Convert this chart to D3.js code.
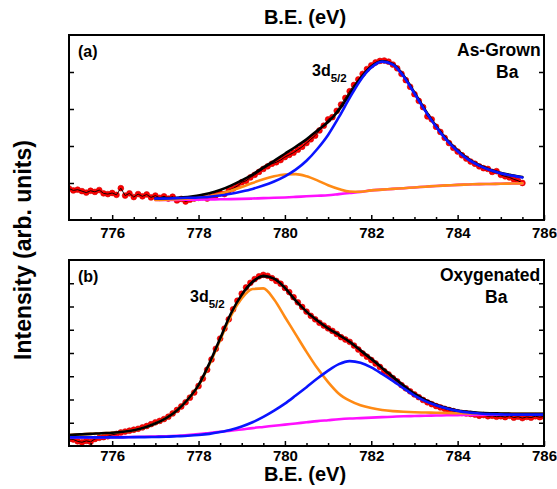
<!DOCTYPE html>
<html><head><meta charset="utf-8">
<script src="https://cdn.jsdelivr.net/npm/d3@7"></script>
<style>
body{margin:0;background:#fff;}
text{font-family:"Liberation Sans",Arial,sans-serif;font-weight:bold;fill:#000;}
</style></head>
<body><svg id="c" width="557" height="489"></svg>
<script>
// ---------- data ----------
const xMajorTicks = [776, 778, 780, 782, 784, 786];
const xMinorTicks = [775.5, 776.5, 777, 777.5, 778.5, 779, 779.5, 780.5, 781, 781.5, 782.5, 783, 783.5, 784.5, 785, 785.5];
const yTicksA = [1, 2, 3, 4];
const yTicksB = [1, 2, 3, 4, 5, 6, 7];

// Panel (a) As-Grown: experimental points (775.0 .. 785.5, step 0.1 eV)
const expA_start = 775.0, expA_step = 0.1;
const expA = [0.85,0.80,0.82,0.78,0.74,0.79,0.76,0.81,0.72,0.70,
0.73,0.68,0.86,0.66,0.72,0.62,0.70,0.64,0.69,0.61,
0.66,0.60,0.64,0.58,0.63,0.53,0.57,0.50,0.55,0.58,
0.60,0.62,0.58,0.64,0.67,0.72,0.70,0.80,0.85,0.92,
1.02,1.06,1.15,1.22,1.30,1.38,1.45,1.52,1.56,1.62,
1.70,1.76,1.82,1.90,1.98,2.08,2.18,2.28,2.42,2.55,
2.72,2.78,2.95,3.12,3.30,3.48,3.65,3.80,3.95,4.08,
4.18,4.26,4.30,4.31,4.28,4.20,4.10,3.95,3.78,3.60,
3.40,3.22,3.05,2.80,2.72,2.52,2.38,2.22,2.08,1.95,
1.85,1.75,1.66,1.58,1.52,1.45,1.40,1.38,1.30,1.32,
1.22,1.18,1.15,1.10,1.06,1.00];

// Panel (a) fits (777.0 .. 785.5, step 0.25 eV)
const fitA_start = 777.0, fitA_step = 0.25;
const bgA = [0.54,0.54,0.545,0.55,0.55,0.555,0.56,0.565,0.57,0.58,0.59,0.60,0.61,0.625,0.64,0.655,0.67,0.70,0.73,0.76,0.80,0.82,0.84,0.86,0.88,0.90,0.92,0.935,0.95,0.96,0.97,0.975,0.98,0.985,0.99];
const orangeA = [0.54,0.55,0.56,0.58,0.61,0.65,0.71,0.79,0.89,1.00,1.10,1.18,1.23,1.24,1.18,1.07,0.94,0.84,0.77,0.765,0.80,0.82,0.84,0.86,0.88,0.90,0.92,0.935,0.95,0.96,0.97,0.975,0.98,0.985,0.99];
const blueA = [0.58,0.58,0.59,0.60,0.61,0.63,0.66,0.71,0.77,0.84,0.93,1.04,1.18,1.36,1.60,1.92,2.30,2.78,3.30,3.78,4.12,4.28,4.20,3.88,3.42,2.95,2.52,2.15,1.86,1.63,1.47,1.35,1.26,1.20,1.15];
const blackA = [0.58,0.59,0.60,0.62,0.66,0.72,0.81,0.93,1.07,1.23,1.42,1.60,1.79,1.98,2.18,2.42,2.65,2.97,3.40,3.82,4.14,4.29,4.21,3.90,3.44,2.97,2.54,2.17,1.88,1.65,1.48,1.36,1.27,1.21,1.16];

// Panel (b) Oxygenated: experimental points (775.0 .. 786.0, step 0.1 eV)
const expB_start = 775.0, expB_step = 0.1;
const expB = [0.30,0.28,0.20,0.16,0.22,0.18,0.30,0.35,0.38,0.42,
0.48,0.52,0.58,0.62,0.66,0.70,0.74,0.80,0.86,0.94,
1.02,1.08,1.16,1.26,1.40,1.55,1.70,1.88,2.08,2.30,
2.58,2.90,3.28,3.72,4.18,4.62,5.05,5.45,5.88,6.25,
6.55,6.82,7.02,7.18,7.30,7.36,7.32,7.22,7.10,6.98,
6.80,6.62,6.40,6.18,5.98,5.78,5.60,5.45,5.30,5.18,
5.06,4.95,4.82,4.68,4.58,4.48,4.32,4.15,3.98,3.84,
3.70,3.55,3.40,3.22,3.08,2.92,2.78,2.62,2.48,2.35,
2.22,2.10,1.98,1.88,1.80,1.72,1.66,1.60,1.55,1.50,
1.45,1.42,1.40,1.38,1.35,1.30,1.33,1.28,1.30,1.26,
1.28,1.24,1.30,1.22,1.26,1.20,1.25,1.22,1.28,1.24,1.27];

// Panel (b) fits (775.0 .. 786.0, step 0.25 eV)
const fitB_start = 775.0, fitB_step = 0.25;
const bgB = [0.37,0.37,0.37,0.37,0.38,0.38,0.39,0.40,0.41,0.42,0.44,0.47,0.51,0.56,0.61,0.66,0.71,0.77,0.82,0.87,0.92,0.97,1.02,1.07,1.11,1.15,1.18,1.20,1.22,1.24,1.26,1.28,1.29,1.30,1.31,1.32,1.33,1.34,1.34,1.35,1.35,1.35,1.35,1.35,1.35];
const orangeB = [0.47,0.50,0.52,0.55,0.57,0.61,0.68,0.80,0.97,1.20,1.53,2.00,2.60,3.50,4.55,5.60,6.35,6.75,6.78,6.30,5.55,4.80,4.05,3.35,2.75,2.25,1.95,1.75,1.63,1.55,1.50,1.47,1.45,1.44,1.43,1.42,1.41,1.40,1.40,1.39,1.39,1.39,1.39,1.39,1.39];
const blueB = [0.37,0.37,0.37,0.37,0.37,0.37,0.38,0.38,0.39,0.40,0.42,0.44,0.47,0.52,0.60,0.70,0.84,1.02,1.25,1.52,1.82,2.17,2.53,2.90,3.24,3.52,3.65,3.58,3.38,3.10,2.80,2.48,2.17,1.93,1.75,1.61,1.51,1.44,1.40,1.37,1.36,1.35,1.35,1.35,1.35];
const blackB = [0.47,0.50,0.52,0.55,0.57,0.61,0.68,0.80,0.97,1.20,1.53,2.00,2.62,3.55,4.62,5.70,6.50,7.05,7.30,7.20,6.80,6.25,5.78,5.40,5.06,4.78,4.48,4.12,3.75,3.36,2.98,2.60,2.25,1.98,1.78,1.63,1.53,1.47,1.43,1.41,1.40,1.39,1.39,1.39,1.39];

// ---------- drawing ----------
const svg = d3.select("#c");
const C = {red:"#ff0000", black:"#000000", blue:"#0a14ff", orange:"#ff8a14", magenta:"#ff10ff"};
const X0 = 69, X1 = 544;
const x = d3.scaleLinear().domain([775, 786]).range([X0, X1]);

function toPts(arr, start, step){ return arr.map((v,i)=>[start + i*step, v]); }

function panel(cfg){
  const y = d3.scaleLinear().domain(cfg.ydom).range([cfg.y1, cfg.y0]);
  const g = svg.append("g");
  const clipId = "clip" + cfg.id;
  svg.append("clipPath").attr("id", clipId).append("rect")
    .attr("x", X0).attr("y", cfg.y0).attr("width", X1-X0).attr("height", cfg.y1-cfg.y0);
  const plot = g.append("g").attr("clip-path", `url(#${clipId})`);

  const lineLin = d3.line().x(d=>x(d[0])).y(d=>y(d[1]));
  const lineSm = d3.line().x(d=>x(d[0])).y(d=>y(d[1])).curve(d3.curveMonotoneX);

  const exp = toPts(cfg.exp, cfg.expStart, cfg.expStep);
  plot.selectAll("circle.pt").data(exp).join("circle").attr("class","pt")
    .attr("cx", d=>x(d[0])).attr("cy", d=>y(d[1])).attr("r", 2.9)
    .attr("fill", C.red).attr("stroke", "#d00000").attr("stroke-width", 0.6);
  plot.append("path").attr("d", lineLin(exp)).attr("fill","none").attr("stroke","#000").attr("stroke-width",0.9);

  const fits = [
    [cfg.bg, C.magenta],
    [cfg.orange, C.orange],
    [cfg.black, C.black],
    [cfg.blue, C.blue]
  ];
  fits.forEach(([arr,col])=>{
    plot.append("path").attr("d", lineSm(toPts(arr, cfg.fitStart, cfg.fitStep)))
      .attr("fill","none").attr("stroke", col).attr("stroke-width", 2.6)
      .attr("stroke-linejoin","round").attr("stroke-linecap","round");
  });

  // axes
  const axB = g.append("g").attr("transform", `translate(0,${cfg.y1})`)
    .call(d3.axisBottom(x).tickValues(xMajorTicks).tickSize(-5).tickPadding(cfg.pad).tickFormat(d3.format("d")));
  axB.select(".domain").remove();
  axB.selectAll("line").attr("stroke-width",1.5);
  axB.selectAll("text").style("font-size","15px").style("font-family","'Liberation Sans',Arial,sans-serif").style("font-weight","bold");
  const axBm = g.append("g").attr("transform", `translate(0,${cfg.y1})`)
    .call(d3.axisBottom(x).tickValues(xMinorTicks).tickSize(-3).tickFormat(""));
  axBm.select(".domain").remove();
  axBm.selectAll("line").attr("stroke-width",1.5);

  const axL = g.append("g").attr("transform", `translate(${X0},0)`)
    .call(d3.axisLeft(y).tickValues(cfg.yticks).tickSize(-5).tickFormat(""));
  axL.select(".domain").remove();
  axL.selectAll("line").attr("stroke-width",1.5);
  const axR = g.append("g").attr("transform", `translate(${X1},0)`)
    .call(d3.axisRight(y).tickValues(cfg.yticks).tickSize(-5).tickFormat(""));
  axR.select(".domain").remove();
  axR.selectAll("line").attr("stroke-width",1.5);

  g.append("rect").attr("x", X0).attr("y", cfg.y0).attr("width", X1-X0).attr("height", cfg.y1-cfg.y0)
    .attr("fill","none").attr("stroke","#000").attr("stroke-width",2);

  // labels
  g.append("text").attr("x", X0+9).attr("y", cfg.y0+22).style("font-size","16px").text(cfg.tag);
  cfg.names.forEach((t,i)=>{
    g.append("text").attr("x", t[1]).attr("y", cfg.y0+21+i*22).style("font-size","17.5px").text(t[0]);
  });
  const lab = g.append("text").attr("x", cfg.lab[0]).attr("y", cfg.lab[1]).style("font-size","16px");
  lab.append("tspan").text("3d");
  lab.append("tspan").attr("dy", 6).style("font-size","11.5px").text("5/2");
  return y;
}

panel({id:"a", y0:35, y1:220, ydom:[0,5], yticks:yTicksA, pad:7,
  exp:expA, expStart:expA_start, expStep:expA_step,
  fitStart:fitA_start, fitStep:fitA_step, bg:bgA, orange:orangeA, blue:blueA, black:blackA,
  tag:"(a)", names:[["As-Grown",457],["Ba",496]], lab:[312,76]});

panel({id:"b", y0:260, y1:446, ydom:[0,8], yticks:yTicksB, pad:4,
  exp:expB, expStart:expB_start, expStep:expB_step,
  fitStart:fitB_start, fitStep:fitB_step, bg:bgB, orange:orangeB, blue:blueB, black:blackB,
  tag:"(b)", names:[["Oxygenated",440],["Ba",485]], lab:[190,302]});

// titles
svg.append("text").attr("x", 305).attr("y", 24).attr("text-anchor","middle").style("font-size","20px").text("B.E. (eV)");
svg.append("text").attr("x", 305).attr("y", 481).attr("text-anchor","middle").style("font-size","20px").text("B.E. (eV)");
svg.append("text").attr("transform","translate(31,250) rotate(-90)").attr("text-anchor","middle").style("font-size","23px").text("Intensity (arb. units)");
</script></body></html>
